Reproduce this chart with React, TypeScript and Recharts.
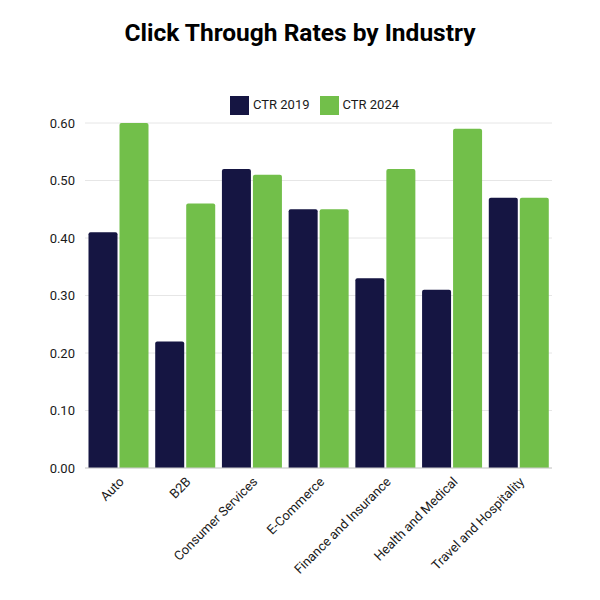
import { Bar, BarChart, CartesianGrid, Legend, XAxis, YAxis } from 'recharts';

// industries on the x axis
const industries = [
    'Auto',
    'B2B',
    'Consumer Services',
    'E-Commerce',
    'Finance and Insurance',
    'Health and Medical',
    'Travel and Hospitality',
];

const ctr2019 = [0.41, 0.22, 0.52, 0.45, 0.33, 0.31, 0.47];
const ctr2024 = [0.6, 0.46, 0.51, 0.45, 0.52, 0.59, 0.47];

const yTicks = [0, 0.1, 0.2, 0.3, 0.4, 0.5, 0.6];

const data = industries.map((name, i) => ({
    name,
    ctr2019: ctr2019[i],
    ctr2024: ctr2024[i],
}));

export default function App() {
    return (
        <div
            style={{
                position: 'absolute',
                top: 0,
                left: 0,
                width: 600,
                height: 600,
                background: '#fff',
                fontFamily: 'Roboto, sans-serif',
            }}
        >
            <div
                style={{
                    position: 'absolute',
                    top: 18,
                    width: 600,
                    textAlign: 'center',
                    fontSize: 24.5,
                    fontWeight: 700,
                    color: '#000',
                    lineHeight: '30px',
                }}
            >
                Click Through Rates by Industry
            </div>
            <BarChart
                width={600}
                height={600}
                data={data}
                margin={{ top: 96, right: 48, left: 20, bottom: 12 }}
                barGap={2}
                barCategoryGap={3.5}
            >
                <CartesianGrid stroke="#e6e6e6" vertical={false} />
                <XAxis
                    dataKey="name"
                    interval={0}
                    angle={-45}
                    textAnchor="end"
                    height={120}
                    tickLine={false}
                    axisLine={{ stroke: '#cccccc' }}
                    tick={{ fill: '#1a1a1a', fontSize: 13 }}
                />
                <YAxis
                    width={65}
                    domain={[0, 0.6]}
                    ticks={yTicks}
                    tickFormatter={(v: number) => v.toFixed(2)}
                    axisLine={false}
                    tickLine={false}
                    tickMargin={4}
                    tick={{ fill: '#1a1a1a', fontSize: 13 }}
                />
                <Legend
                    verticalAlign="top"
                    iconType="square"
                    iconSize={19}
                    wrapperStyle={{
                        left: 86,
                        width: 467,
                        paddingBottom: 8,
                        fontSize: 13,
                    }}
                    formatter={(value: string) => (
                        <span style={{ color: '#1a1a1a' }}>{value}</span>
                    )}
                />
                <Bar
                    dataKey="ctr2019"
                    name="CTR 2019"
                    fill="#151542"
                    radius={[2, 2, 0, 0]}
                    isAnimationActive={false}
                />
                <Bar
                    dataKey="ctr2024"
                    name="CTR 2024"
                    fill="#72bf4a"
                    radius={[2, 2, 0, 0]}
                    isAnimationActive={false}
                />
            </BarChart>
        </div>
    );
}
